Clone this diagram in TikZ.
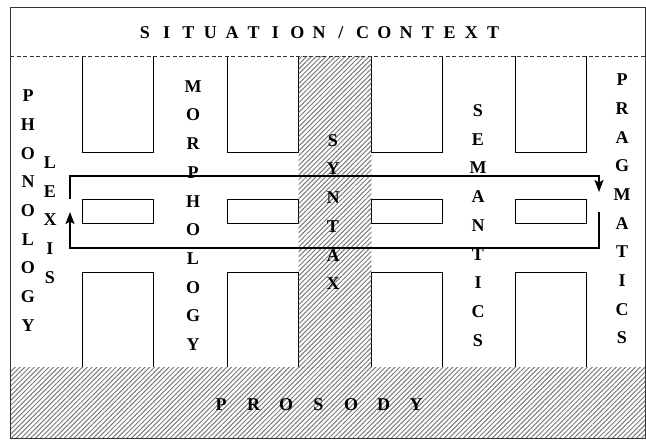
\documentclass[tikz,border=0pt]{standalone}
\usepackage{fontspec}
\setmainfont{Liberation Serif}[BoldFont={Liberation Serif Bold}]
\usetikzlibrary{arrows.meta,patterns.meta}
\definecolor{hachure}{HTML}{7A7A7A}
\definecolor{cadre}{HTML}{333333}

\begin{document}
\begin{tikzpicture}[
    x=1pt,y=-1pt,
    lettre/.style = {font=\bfseries\fontsize{18}{28.7}\selectfont,align=center,
                     inner sep=0pt},
    titre/.style  = {font=\bfseries\fontsize{18}{20}\selectfont,inner sep=0pt,
                     anchor=base},
    case/.style   = {draw=black,line width=0.8pt},
    hach/.style   = {pattern={Lines[angle=45,distance=3.4pt,line width=1pt]},
                     pattern color=hachure},
    boucle/.style = {line width=1.8pt,black},
    fl/.style     = {boucle,-{Stealth[length=12pt,width=9pt,inset=2.5pt]}},
  ]

  \useasboundingbox (0,0) rectangle (646,440);

  % bande de la prosodie
  \fill[hach] (10,367) rectangle (645,438);

  % casiers
  \foreach \x in {82,227,371,515} {
    \draw[case] (\x,56) -- (\x,152) -- (\x+71.5,152) -- (\x+71.5,56);
    \draw[case] (\x,199) rectangle (\x+71.5,223);
    \draw[case] (\x,367) -- (\x,272) -- (\x+71.5,272) -- (\x+71.5,367);
  }

  % colonne de la syntaxe
  \fill[white] (298.6,56) rectangle (371.4,367);
  \fill[hach]  (298.6,56) rectangle (371.4,367);

  \draw[cadre,dash pattern=on 4pt off 2.5pt] (10,56) -- (645,56);

  \foreach \c [count=\i from 0] in {S,I,T,U,A,T,I,O,N,/,C,O,N,T,E,X,T}
    \node[titre] (t\i) at (145+21.75*\i,38) {\c};

  \node[lettre] (phono)  at (28,210.5)  {P\\H\\O\\N\\O\\L\\O\\G\\Y};
  \node[lettre] (lexis)  at (50,220)    {L\\E\\X\\I\\S};
  \node[lettre] (morpho) at (193,215.5) {M\\O\\R\\P\\H\\O\\L\\O\\G\\Y};
  \node[lettre] (syntax) at (333,212)   {S\\Y\\N\\T\\A\\X};
  \node[lettre] (seman)  at (478,225.5) {S\\E\\M\\A\\N\\T\\I\\C\\S};
  \node[lettre] (prag)   at (622,209)   {P\\R\\A\\G\\M\\A\\T\\I\\C\\S};

  \foreach \c [count=\i from 0] in {P,R,O,S,O,D,Y}
    \node[titre] (p\i) at (221+32.5*\i,410) {\c};

  % boucle
  \coordinate (dep-g) at (70,199);
  \coordinate (hg)    at (70,176);
  \coordinate (hd)    at (599,176);
  \coordinate (fin-d) at (599,192);
  \coordinate (dep-d) at (599,212);
  \coordinate (bd)    at (599,248);
  \coordinate (bg)    at (70,248);
  \coordinate (fin-g) at (70,212);
  \draw[fl] (dep-g) -- (hg) -- (hd) -- (fin-d);
  \draw[fl] (dep-d) -- (bd) -- (bg) -- (fin-g);

  \draw[cadre,line width=0.8pt] (10,7) rectangle (645,438);

\end{tikzpicture}
\end{document}
